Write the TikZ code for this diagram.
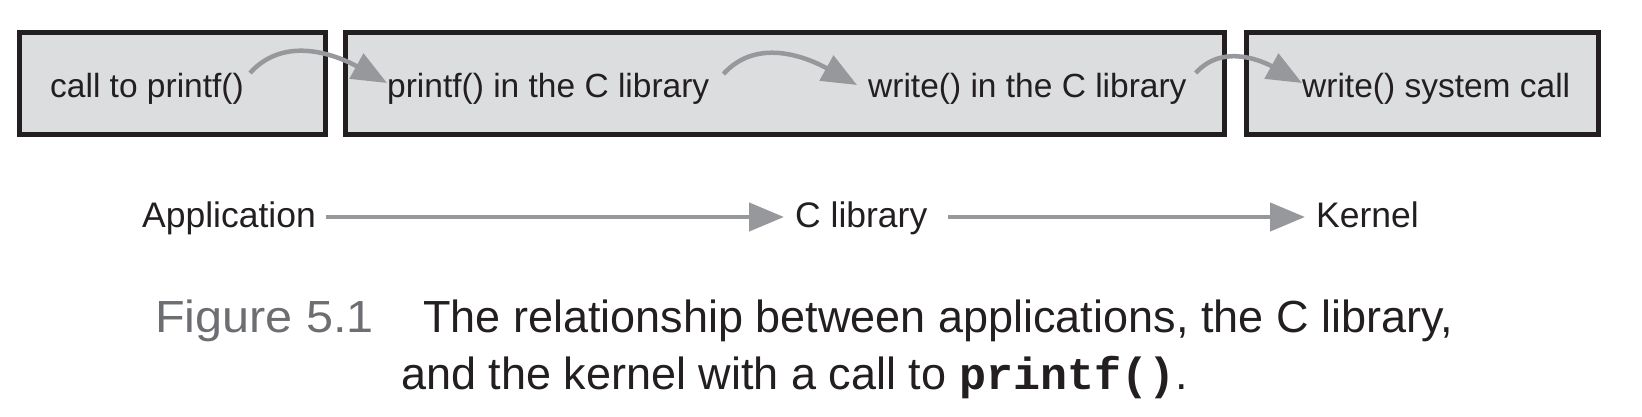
\documentclass[tikz,border=0pt]{standalone}
\usepackage{fontspec}
\setmainfont{Liberation Sans}
\newfontfamily\codefont{Liberation Mono}
\usetikzlibrary{arrows.meta}
\definecolor{boxfill}{HTML}{DCDDDF}
\definecolor{boxline}{HTML}{231F20}
\definecolor{flowgray}{HTML}{97989B}
\definecolor{txt}{HTML}{231F20}
\definecolor{figgray}{HTML}{6D6E71}
\tikzset{
  boxst/.style={draw=boxline, fill=boxfill, line width=5pt, inner sep=0pt, minimum height=102pt},
  lbl/.style={font=\fontsize{33.5}{40}\selectfont, text=txt, inner sep=0pt, anchor=base west},
  layer/.style={font=\fontsize{35.5}{42}\selectfont, text=txt, inner sep=0pt, anchor=base west},
  capst/.style={font=\fontsize{45}{52}\selectfont, text=txt, inner sep=0pt, anchor=base west},
  flow/.style={draw=flowgray, line width=4.5pt, -{Triangle[length=35pt,width=28pt]}},
  hop/.style={draw=flowgray, line width=4.5pt, -{Triangle[length=35pt,width=28pt]}},
}
\begin{document}
\begin{tikzpicture}[x=1pt,y=-1pt]
\useasboundingbox (0,0) rectangle (1642,417);
% boxes
\node[boxst, minimum width=306pt] (app box) at (172.5,83.5) {};
\node[boxst, minimum width=879pt] (lib box) at (785,83.5) {};
\node[boxst, minimum width=352pt] (ker box) at (1422.5,83.5) {};
% texts in boxes
\node[lbl] (t1) at (50,98) {call to printf()};
\node[lbl] (t2) at (387,98) {printf() in the C library};
\node[lbl] (t3) at (868,98) {write() in the C library};
\node[lbl] (t4) at (1302,98) {write() system call};
% hops
\draw[hop] ([xshift=6pt,yshift=25pt]t1.base east) to[out=48,in=151] ([yshift=15pt]t2.base west);
\draw[hop] ([xshift=14pt,yshift=24pt]t2.base east) to[out=48,in=151] ([xshift=-11pt,yshift=13pt]t3.base west);
\draw[hop] ([xshift=9pt,yshift=25pt]t3.base east) to[out=48,in=151] ([yshift=15pt]t4.base west);
% bottom row
\node[layer] (app) at (142,227) {Application};
\node[layer] (clib) at (795,227) {C library};
\node[layer] (kern) at (1316,227) {Kernel};
\draw[flow] ([xshift=10pt,yshift=10pt]app.base east) -- ([xshift=-11pt,yshift=10pt]clib.base west);
\draw[flow] ([xshift=20pt,yshift=10pt]clib.base east) -- ([xshift=-11pt,yshift=10pt]kern.base west);
% caption
\node[capst, text=figgray] (fig) at (155,332) {\scalebox{1.08}[1]{Figure 5.1}};
\node[capst] (cap1) at (423,332) {The relationship between applications, the C library,};
\node[capst] (cap2) at (401,389) {and the kernel with a call to {\codefont\bfseries\fontsize{45}{52}\selectfont printf()}.};
\end{tikzpicture}
\end{document}
